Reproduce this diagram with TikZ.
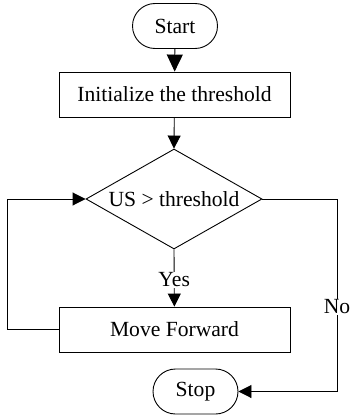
\documentclass[tikz,border=0pt]{standalone}
\usepackage{fontspec}
\setmainfont{Liberation Serif}
\usetikzlibrary{shapes.geometric,arrows.meta}
\begin{document}
\begin{tikzpicture}[x=1pt,y=-1pt,line width=0.9pt,
  font=\fontsize{21.6}{24}\selectfont,
  term/.style={draw,rounded corners=22.5pt,minimum width=85pt,minimum height=45pt,inner sep=0pt},
  proc/.style={draw,minimum width=231pt,minimum height=45pt,inner sep=0pt},
  dec/.style={draw,diamond,minimum width=176pt,minimum height=100pt,inner sep=0pt},
  arr/.style={-{Triangle[length=13pt,width=13pt]}},
  bigarr/.style={-{Triangle[length=17pt,width=16pt]}},
  lbl/.style={fill=white,inner sep=1pt}]
\useasboundingbox (0,0) rectangle (350,415);
\node[term] (start) at (175,26) {Start};
\node[proc] (init) at (174.5,94.5) {Initialize the threshold};
\node[dec] (dec) at (174,199) {};
\node at (174,199) {US > threshold};
\node[proc] (move) at (174.5,329.5) {Move Forward};
\node[term] (stop) at (195.5,391.5) {Stop};
\coordinate (l1) at (7,329.5);
\coordinate (l2) at (7,199);
\coordinate (r1) at (337,199);
\coordinate (r2) at (337,391.5);
\draw[bigarr] (start) -- (init);
\draw[arr] (init) -- (dec.north);
\draw[arr] (dec.south) -- node[lbl,pos=0.53] (yes) {Yes} (move);
\draw[arr] (move.west) -- (l1) -- (l2) -- (dec.west);
\draw[arr] (dec.east) -- (r1) -- node[lbl,pos=0.56] (no) {No} (r2) -- (stop.east);
\end{tikzpicture}
\end{document}
